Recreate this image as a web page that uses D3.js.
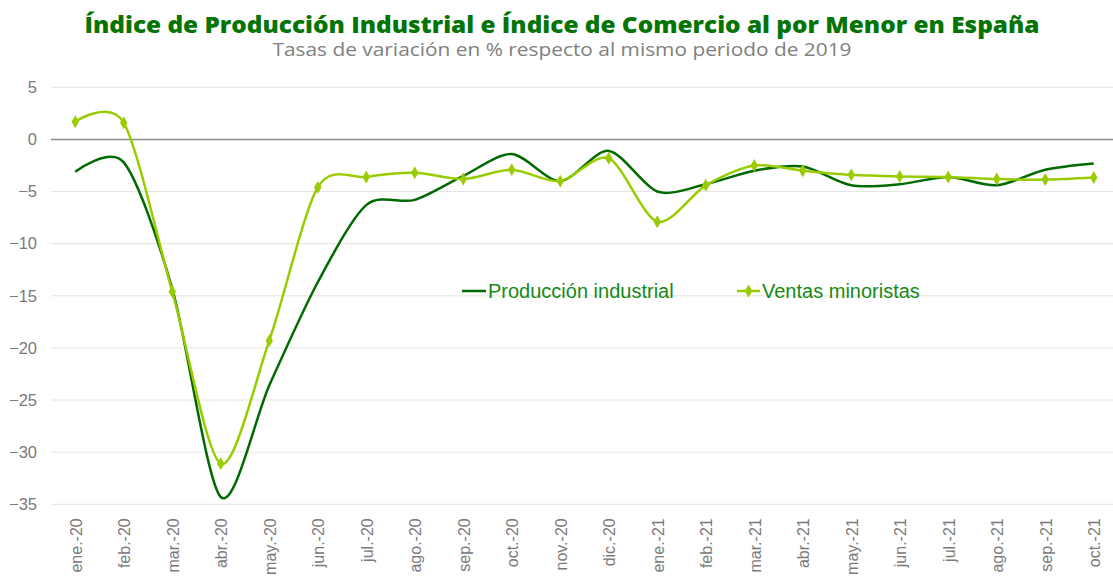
<!DOCTYPE html>
<html>
<head>
<meta charset="utf-8">
<script src="https://cdn.jsdelivr.net/npm/d3@7"></script>
<style>
  html, body { margin: 0; padding: 0; background: #ffffff; }
  svg { display: block; }
</style>
</head>
<body>
<div id="chart"></div>
<script>
  const months = ['ene.-20', 'feb.-20', 'mar.-20', 'abr.-20', 'may.-20', 'jun.-20', 'jul.-20', 'ago.-20',
    'sep.-20', 'oct.-20', 'nov.-20', 'dic.-20', 'ene.-21', 'feb.-21', 'mar.-21', 'abr.-21', 'may.-21',
    'jun.-21', 'jul.-21', 'ago.-21', 'sep.-21', 'oct.-21'];

  const produccion = [-3.1, -2.2, -14.3, -34.3, -23.6, -13.7, -6.3, -5.8, -3.5, -1.4, -4.0, -1.1,
    -5.0, -4.3, -3.0, -2.6, -4.4, -4.3, -3.6, -4.4, -2.9, -2.3];

  const ventas = [1.7, 1.6, -14.6, -31.1, -19.3, -4.6, -3.6, -3.2, -3.8, -2.9, -4.0, -1.8,
    -7.9, -4.4, -2.5, -3.0, -3.4, -3.55, -3.6, -3.8, -3.85, -3.65];

  const yTicks = [5, 0, -5, -10, -15, -20, -25, -30, -35];

  const title = 'Índice de Producción Industrial e Índice de Comercio al por Menor en España';
  const subtitle = 'Tasas de variación en % respecto al mismo periodo de 2019';

  const width = 1113;
  const height = 579;
  const plot = { left: 51, right: 1118, top: 87.3, bottom: 504.3 };

  const darkGreen = '#006a00';
  const lightGreen = '#99cc00';

  const svg = d3.select('#chart')
    .append('svg')
    .attr('width', width)
    .attr('height', height);

  const x = d3.scalePoint()
    .domain(months)
    .range([plot.left, plot.right])
    .padding(0.5);

  const y = d3.scaleLinear()
    .domain([-35, 5])
    .range([plot.bottom, plot.top]);

  // Titles
  svg.append('text')
    .attr('x', 562)
    .attr('y', 33)
    .attr('text-anchor', 'middle')
    .attr('font-family', '"Open Sans", sans-serif')
    .attr('font-weight', 800)
    .attr('font-size', '22px')
    .attr('fill', '#047404')
    .attr('textLength', 955)
    .attr('lengthAdjust', 'spacingAndGlyphs')
    .text(title);

  svg.append('text')
    .attr('x', 562)
    .attr('y', 56)
    .attr('text-anchor', 'middle')
    .attr('font-family', '"Open Sans", sans-serif')
    .attr('font-size', '18px')
    .attr('fill', '#808080')
    .attr('textLength', 579)
    .attr('lengthAdjust', 'spacingAndGlyphs')
    .text(subtitle);

  // Grid
  svg.append('g')
    .selectAll('line')
    .data(yTicks.filter(d => d !== 0))
    .enter()
    .append('line')
    .attr('x1', plot.left)
    .attr('x2', width)
    .attr('y1', d => y(d))
    .attr('y2', d => y(d))
    .attr('stroke', '#e3e3e3')
    .attr('stroke-width', 1);

  svg.append('line')
    .attr('x1', plot.left)
    .attr('x2', width)
    .attr('y1', y(0))
    .attr('y2', y(0))
    .attr('stroke', '#8c8c8c')
    .attr('stroke-width', 1.5);

  // Y axis
  svg.append('g')
    .attr('transform', `translate(${plot.left - 14},0)`)
    .call(d3.axisLeft(y).tickValues(yTicks).tickSize(0).tickPadding(0))
    .call(g => g.select('.domain').remove())
    .call(g => g.selectAll('.tick text')
      .attr('fill', '#7a7a7a')
      .attr('font-family', '"Liberation Sans", Arial, sans-serif')
      .attr('font-size', '16.5px'));

  // X axis labels
  svg.append('g')
    .attr('transform', `translate(0,${plot.bottom})`)
    .call(d3.axisBottom(x).tickSize(0).tickPadding(0))
    .call(g => g.select('.domain').remove())
    .call(g => g.selectAll('.tick text')
      .attr('fill', '#7a7a7a')
      .attr('font-family', '"Liberation Sans", Arial, sans-serif')
      .attr('font-size', '16px')
      .attr('transform', 'translate(0,14) rotate(-90)')
      .attr('x', 0)
      .attr('y', 0)
      .attr('dy', '0.36em')
      .style('text-anchor', 'end'));

  const line = d3.line()
    .x((d, i) => x(months[i]))
    .y(d => y(d))
    .curve(d3.curveCardinal.tension(0.15));

  svg.append('path')
    .datum(produccion)
    .attr('fill', 'none')
    .attr('stroke', darkGreen)
    .attr('stroke-width', 2.5)
    .attr('d', line);

  svg.append('path')
    .datum(ventas)
    .attr('fill', 'none')
    .attr('stroke', lightGreen)
    .attr('stroke-width', 2.5)
    .attr('d', line);

  const diamond = d3.symbol().type(d3.symbolDiamond).size(48);

  svg.append('g')
    .selectAll('path')
    .data(ventas)
    .enter()
    .append('path')
    .attr('transform', (d, i) => `translate(${x(months[i])},${y(d)})`)
    .attr('d', diamond)
    .attr('fill', lightGreen);

  // Legend
  const legend = svg.append('g');
  const legendY = 291;

  legend.append('line')
    .attr('x1', 462).attr('x2', 486)
    .attr('y1', legendY).attr('y2', legendY)
    .attr('stroke', darkGreen)
    .attr('stroke-width', 2.5);

  legend.append('text')
    .attr('x', 488)
    .attr('y', 298)
    .attr('font-family', '"Liberation Sans", Arial, sans-serif')
    .attr('font-size', '20px')
    .attr('fill', '#168a16')
    .text('Producción industrial');

  legend.append('line')
    .attr('x1', 737).attr('x2', 760)
    .attr('y1', legendY).attr('y2', legendY)
    .attr('stroke', lightGreen)
    .attr('stroke-width', 2.5);

  legend.append('path')
    .attr('transform', `translate(748.5,${legendY})`)
    .attr('d', diamond)
    .attr('fill', lightGreen);

  legend.append('text')
    .attr('x', 762)
    .attr('y', 298)
    .attr('font-family', '"Liberation Sans", Arial, sans-serif')
    .attr('font-size', '20px')
    .attr('fill', '#168a16')
    .text('Ventas minoristas');
</script>
</body>
</html>
